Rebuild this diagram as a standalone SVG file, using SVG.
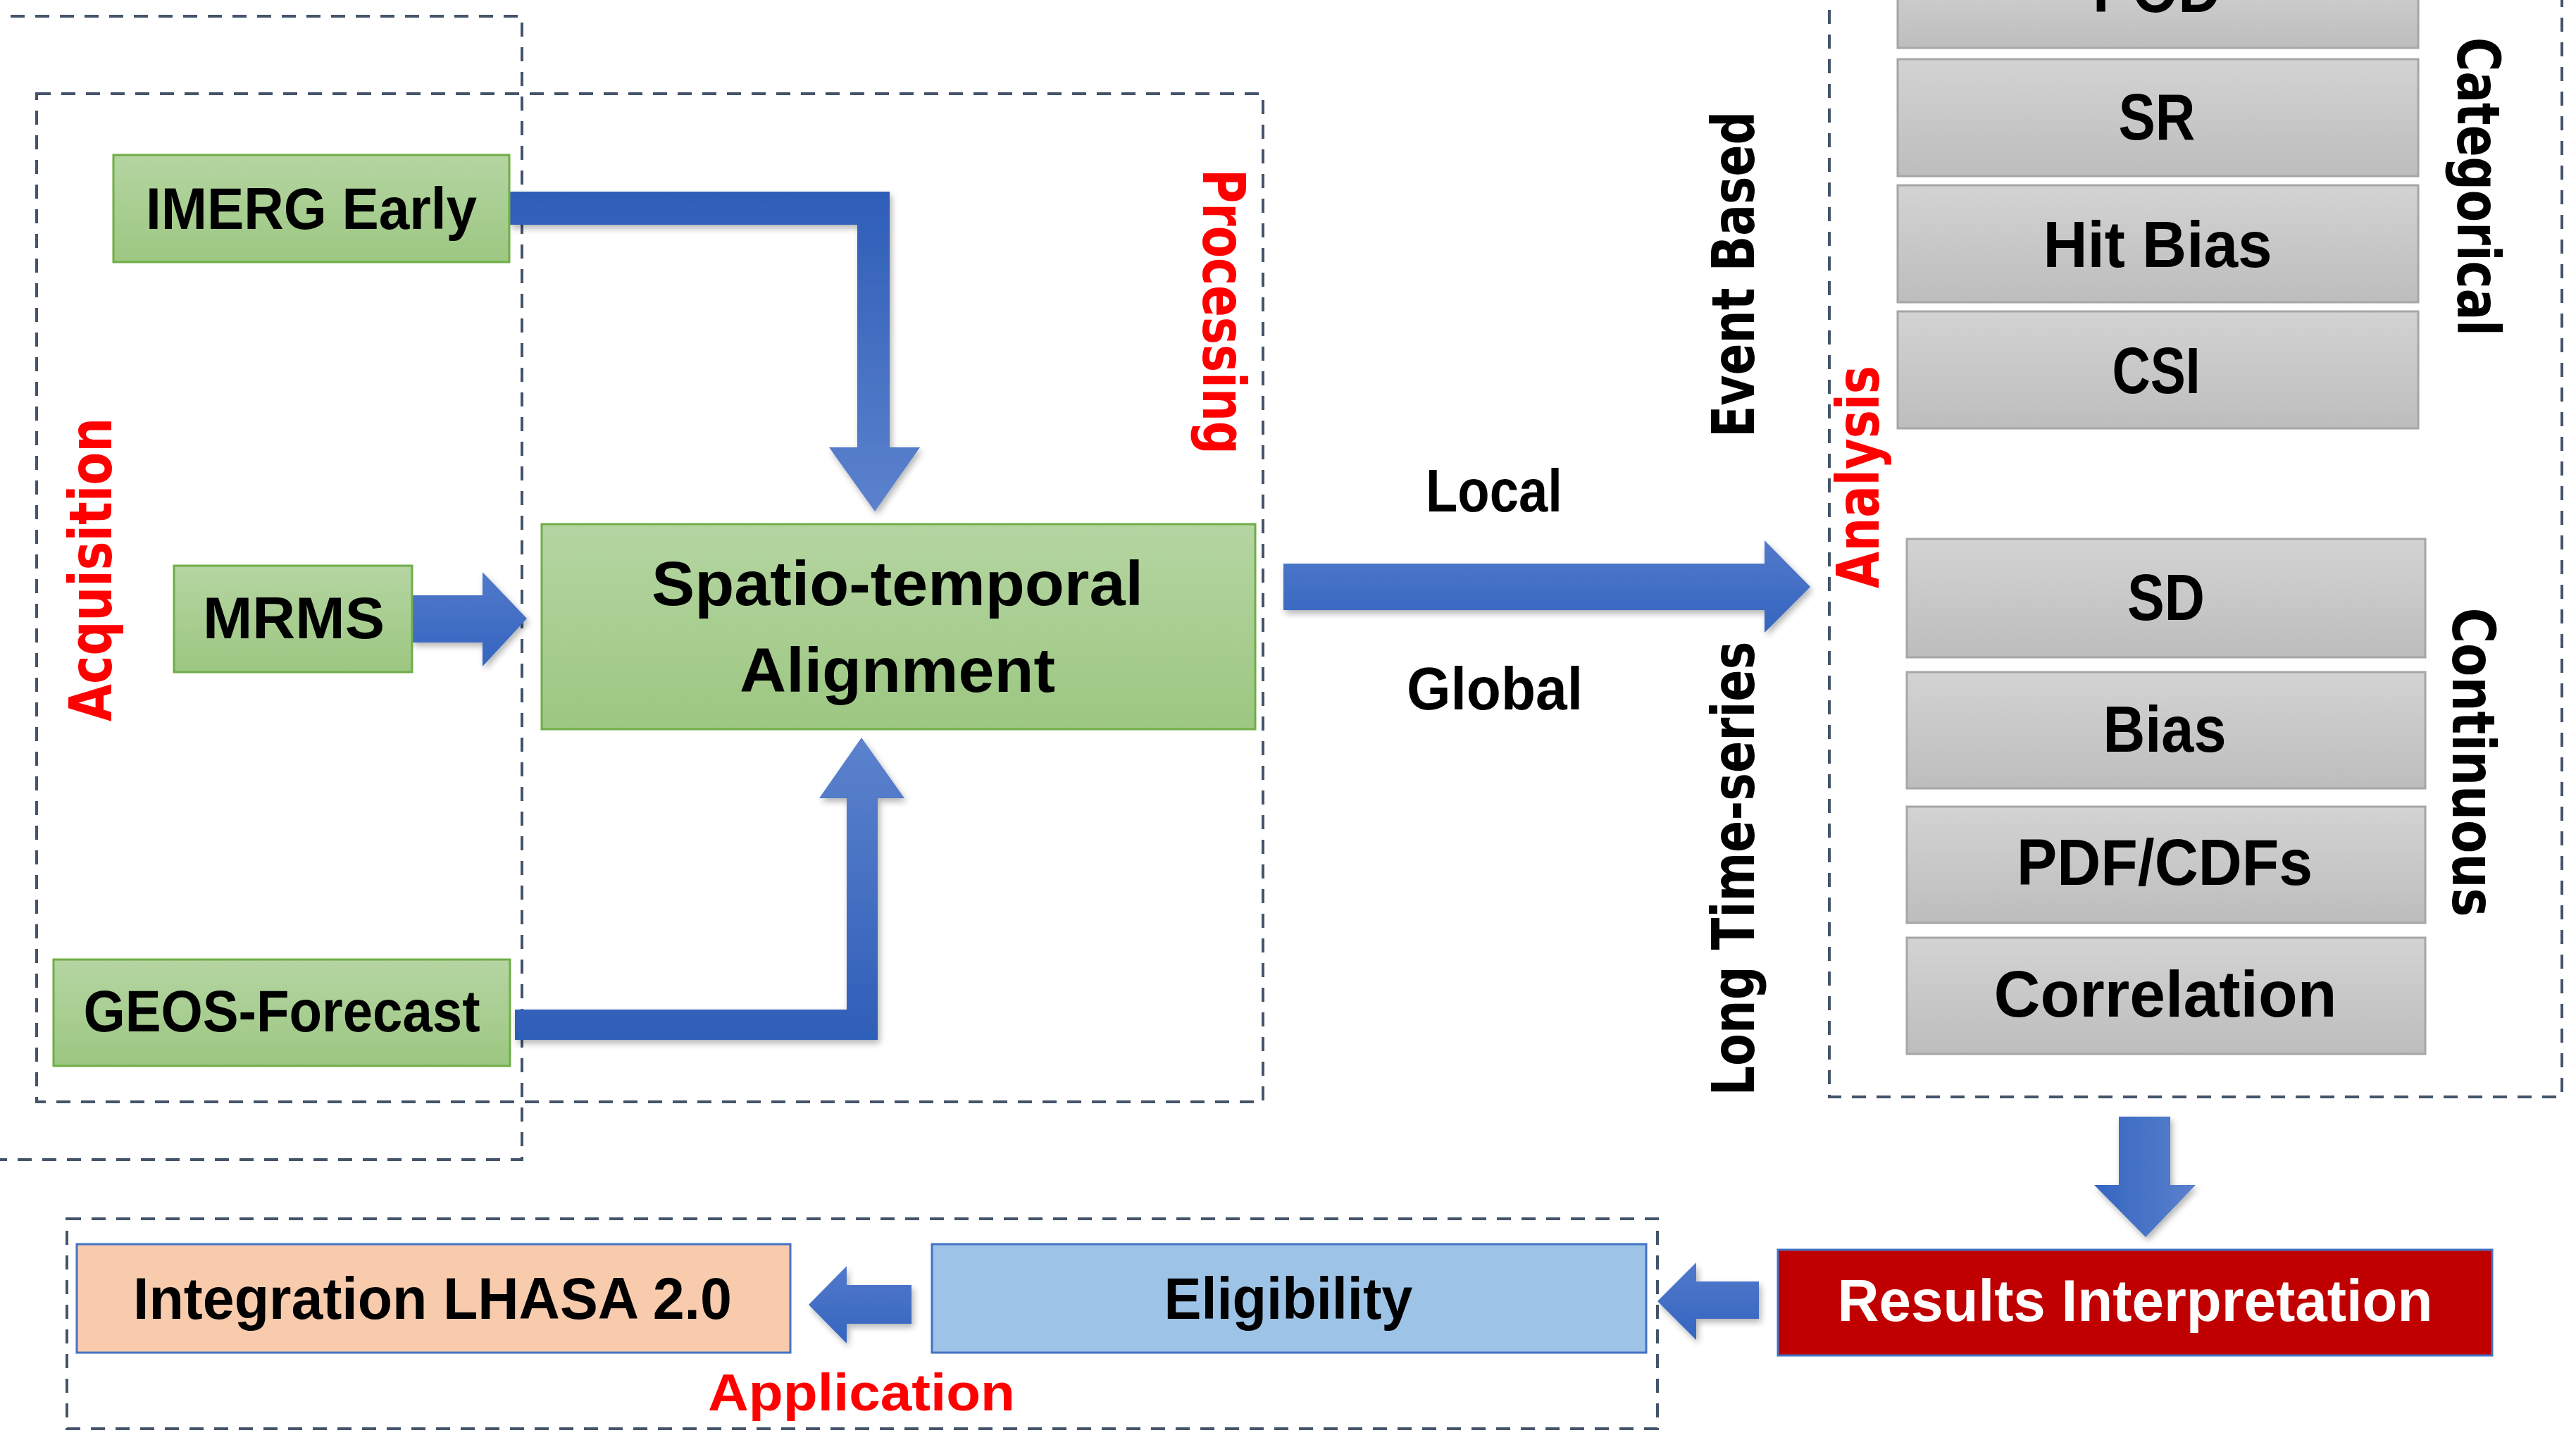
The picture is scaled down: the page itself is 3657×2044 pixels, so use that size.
<svg xmlns="http://www.w3.org/2000/svg" width="3657" height="2044" viewBox="0 0 3657 2044">
<defs>
<style>
.frame{fill:none;stroke:#44546a;stroke-width:4;stroke-dasharray:20 15}
.green{fill:url(#gGreen);stroke:#70ad47;stroke-width:3}
.gray{fill:url(#gGray);stroke:#a6a6a6;stroke-width:3}
.t{font-family:"Liberation Sans",Arial,sans-serif;font-weight:bold;font-size:84px;fill:#000;text-anchor:middle}
.m{font-size:92px}
.v{font-family:"DejaVu Sans",Verdana,sans-serif;font-weight:bold;font-size:84px;text-anchor:middle}
.red{fill:#ff0000}
.blk{fill:#000}
.arrow{filter:url(#sh)}
</style>
<linearGradient id="gGreen" x1="0" y1="0" x2="0" y2="1"><stop offset="0" stop-color="#b5d5a2"/><stop offset="1" stop-color="#9cc781"/></linearGradient>
<linearGradient id="gGray" x1="0" y1="0" x2="0" y2="1"><stop offset="0" stop-color="#d3d3d3"/><stop offset="1" stop-color="#bdbdbd"/></linearGradient>
<linearGradient id="aDown" x1="0" y1="0" x2="0" y2="1"><stop offset="0" stop-color="#2e5eb8"/><stop offset="1" stop-color="#5c82cd"/></linearGradient>
<linearGradient id="aUp" x1="0" y1="1" x2="0" y2="0"><stop offset="0" stop-color="#2e5eb8"/><stop offset="1" stop-color="#5c82cd"/></linearGradient>
<linearGradient id="aH" x1="0" y1="0" x2="0" y2="1"><stop offset="0" stop-color="#5279ca"/><stop offset="1" stop-color="#3465c0"/></linearGradient>
<linearGradient id="aV" x1="0" y1="0" x2="1" y2="0"><stop offset="0" stop-color="#3566c1"/><stop offset="1" stop-color="#5a80cc"/></linearGradient>
<filter id="sh" x="-10%" y="-10%" width="125%" height="125%">
<feGaussianBlur in="SourceAlpha" stdDeviation="5"/>
<feOffset dx="3" dy="5" result="o"/>
<feComponentTransfer><feFuncA type="linear" slope="0.3"/></feComponentTransfer>
<feMerge><feMergeNode/><feMergeNode in="SourceGraphic"/></feMerge>
</filter>
</defs>
<rect width="3657" height="2044" fill="#ffffff"/>

<g id="frames">
<rect class="frame" x="-20" y="23" width="761" height="1623"/>
<rect class="frame" x="52" y="133" width="1741" height="1431"/>
<rect class="frame" x="2597" y="-20" width="1040" height="1577"/>
<rect class="frame" x="95" y="1730" width="2258" height="298"/>
</g>

<g id="section-labels">
<text class="v red" textLength="431" lengthAdjust="spacingAndGlyphs" transform="translate(158,808.5) rotate(-90)">Acquisition</text>
<text class="v red" textLength="405" lengthAdjust="spacingAndGlyphs" transform="translate(1708,442.5) rotate(90)">Processing</text>
<text class="v red" textLength="316" lengthAdjust="spacingAndGlyphs" transform="translate(2667,677) rotate(-90)">Analysis</text>
<text class="t red" style="font-size:74px" x="1223" y="2002" textLength="436" lengthAdjust="spacingAndGlyphs">Application</text>
<text class="v blk" textLength="463" lengthAdjust="spacingAndGlyphs" transform="translate(2490,389.5) rotate(-90)">Event Based</text>
<text class="v blk" textLength="645" lengthAdjust="spacingAndGlyphs" transform="translate(2490,1233) rotate(-90)">Long Time-series</text>
<text class="v blk" textLength="424" lengthAdjust="spacingAndGlyphs" transform="translate(3489,265) rotate(90)">Categorical</text>
<text class="v blk" textLength="439" lengthAdjust="spacingAndGlyphs" transform="translate(3482,1082) rotate(90)">Continuous</text>
<text class="t" style="font-size:86px" x="2121" y="726" textLength="194" lengthAdjust="spacingAndGlyphs">Local</text>
<text class="t" style="font-size:86px" x="2122" y="1007" textLength="250" lengthAdjust="spacingAndGlyphs">Global</text>
</g>

<g id="connectors">
<path class="arrow" fill="url(#aDown)" d="M723,272 L1263,272 L1263,635 L1306,635 L1242,726 L1177,635 L1217,635 L1217,319 L723,319 Z"/>
<path class="arrow" fill="url(#aH)" d="M585,845 L685,845 L685,812 L748,878 L685,946 L685,912 L585,912 Z"/>
<path class="arrow" fill="url(#aUp)" d="M731,1433 L1202,1433 L1202,1133 L1163,1133 L1223,1047 L1284,1133 L1246,1133 L1246,1476 L731,1476 Z"/>
<path class="arrow" fill="url(#aH)" d="M1822,800 L2505,800 L2505,767 L2570,833 L2505,898 L2505,866 L1822,866 Z"/>
<path class="arrow" fill="url(#aV)" d="M3008,1585 L3081,1585 L3081,1682 L3117,1682 L3046,1756 L2973,1682 L3008,1682 Z"/>
<path class="arrow" fill="url(#aH)" d="M2497,1819 L2408,1819 L2408,1792 L2353,1847 L2408,1902 L2408,1872 L2497,1872 Z"/>
<path class="arrow" fill="url(#aH)" d="M1294,1824 L1202,1824 L1202,1797 L1148,1852 L1202,1907 L1202,1879 L1294,1879 Z"/>
</g>

<g id="imerg">
<rect class="green" x="161" y="220" width="562" height="152"/>
<text class="t" x="442" y="325" textLength="470" lengthAdjust="spacingAndGlyphs">IMERG Early</text>
</g>
<g id="mrms">
<rect class="green" x="247" y="803" width="338" height="151"/>
<text class="t" x="417" y="906" textLength="258" lengthAdjust="spacingAndGlyphs">MRMS</text>
</g>
<g id="geos">
<rect class="green" x="76" y="1362" width="648" height="151"/>
<text class="t" x="400" y="1464" textLength="563" lengthAdjust="spacingAndGlyphs">GEOS-Forecast</text>
</g>
<g id="alignment">
<rect class="green" x="769" y="744" width="1013" height="291"/>
<text class="t" style="font-size:89px" x="1274" y="859" textLength="698" lengthAdjust="spacingAndGlyphs">Spatio-temporal</text>
<text class="t" style="font-size:89px" x="1274" y="982" textLength="448" lengthAdjust="spacingAndGlyphs">Alignment</text>
</g>

<g id="pod">
<rect class="gray" x="2694" y="-40" width="739" height="108"/>
<text class="t m" x="3062" y="17" textLength="182" lengthAdjust="spacingAndGlyphs">POD</text>
</g>
<g id="sr">
<rect class="gray" x="2694" y="84" width="739" height="166"/>
<text class="t m" x="3062" y="198" textLength="109" lengthAdjust="spacingAndGlyphs">SR</text>
</g>
<g id="hitbias">
<rect class="gray" x="2694" y="263" width="739" height="166"/>
<text class="t m" x="3063" y="379" textLength="325" lengthAdjust="spacingAndGlyphs">Hit Bias</text>
</g>
<g id="csi">
<rect class="gray" x="2694" y="442" width="739" height="166"/>
<text class="t m" x="3061" y="558" textLength="125" lengthAdjust="spacingAndGlyphs">CSI</text>
</g>
<g id="sd">
<rect class="gray" x="2707" y="765" width="736" height="168"/>
<text class="t m" x="3075" y="880" textLength="110" lengthAdjust="spacingAndGlyphs">SD</text>
</g>
<g id="bias">
<rect class="gray" x="2707" y="954" width="736" height="165"/>
<text class="t m" x="3073" y="1067" textLength="175" lengthAdjust="spacingAndGlyphs">Bias</text>
</g>
<g id="pdfcdf">
<rect class="gray" x="2707" y="1145" width="736" height="165"/>
<text class="t m" x="3073" y="1256" textLength="420" lengthAdjust="spacingAndGlyphs">PDF/CDFs</text>
</g>
<g id="correlation">
<rect class="gray" x="2707" y="1331" width="736" height="165"/>
<text class="t m" x="3074" y="1443" textLength="487" lengthAdjust="spacingAndGlyphs">Correlation</text>
</g>

<g id="results">
<rect x="2524" y="1774" width="1014" height="150" fill="#c00000" stroke="#4472c4" stroke-width="3"/>
<text class="t" style="fill:#ffffff" x="3031" y="1875" textLength="845" lengthAdjust="spacingAndGlyphs">Results Interpretation</text>
</g>
<g id="eligibility">
<rect x="1323" y="1766" width="1014" height="154" fill="#9dc3e6" stroke="#4472c4" stroke-width="3"/>
<text class="t" x="1829" y="1872" textLength="353" lengthAdjust="spacingAndGlyphs">Eligibility</text>
</g>
<g id="integration">
<rect x="109" y="1766" width="1013" height="154" fill="#f8cbad" stroke="#4472c4" stroke-width="3"/>
<text class="t" x="614" y="1872" textLength="850" lengthAdjust="spacingAndGlyphs">Integration LHASA 2.0</text>
</g>
</svg>
